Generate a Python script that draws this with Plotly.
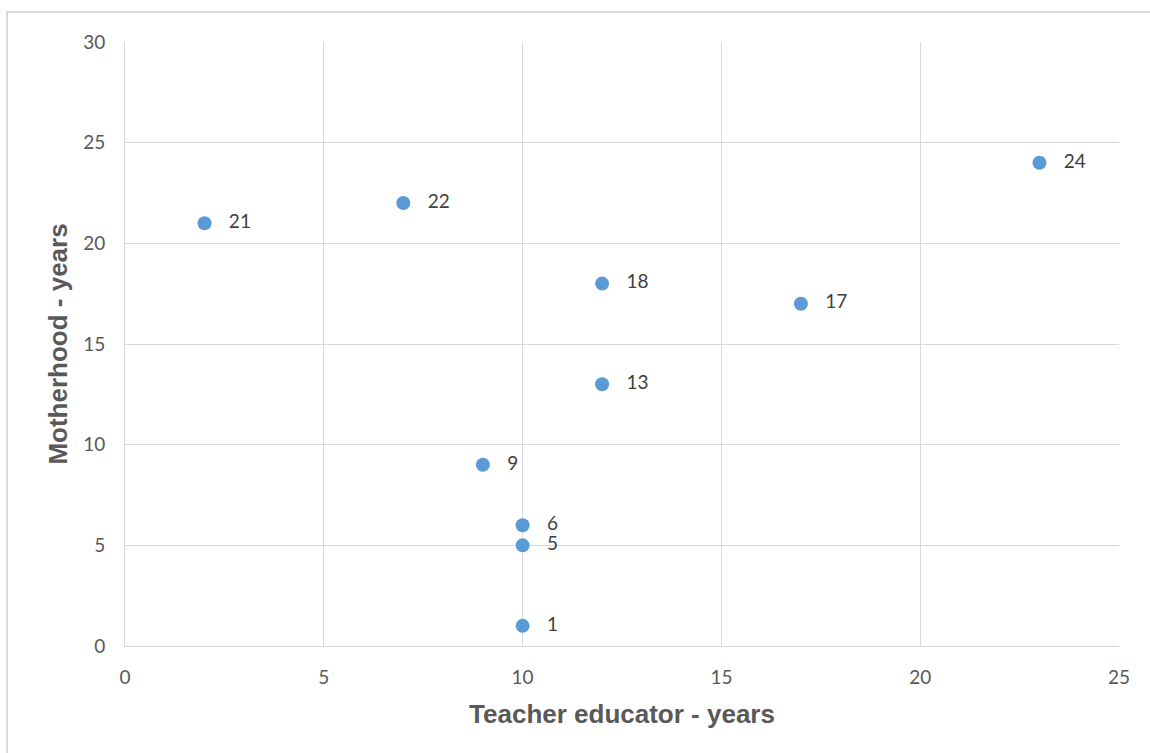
import plotly.graph_objects as go

teacher_years = [2, 7, 23, 12, 17, 12, 9, 10, 10, 10]
motherhood_years = [21, 22, 24, 18, 17, 13, 9, 6, 5, 1]
point_labels = ["21", "22", "24", "18", "17", "13", "9", "6", "5", "1"]

W, H = 1150, 753
L, R, T, B = 125, 31, 42, 107
pw, ph = W - L - R, H - T - B

fig = go.Figure()
fig.add_trace(go.Scatter(
    x=teacher_years, y=motherhood_years,
    mode="markers+text",
    text=["   " + s for s in point_labels],
    textposition="middle right",
    textfont=dict(family="Lato", size=19, color="#404040"),
    marker=dict(size=14, color="#5b9bd5"),
    cliponaxis=False,
    hoverinfo="x+y",
))

axis_common = dict(
    showgrid=True, gridcolor="#d9d9d9", gridwidth=1,
    showline=True, linecolor="#d9d9d9", linewidth=1, mirror=False,
    zeroline=False, ticks="",
    tickfont=dict(family="Lato", size=19, color="#595959"),
)

fig.update_layout(
    width=W, height=H,
    margin=dict(l=L, r=R, t=T, b=B),
    paper_bgcolor="white", plot_bgcolor="white",
    showlegend=False,
    xaxis=dict(range=[0, 25], dtick=5, tickmode="linear", tick0=0,
               ticklabelstandoff=14,
               title=dict(text="<b>Teacher educator - years</b>",
                          font=dict(family="Liberation Sans", size=26, color="#595959"),
                          standoff=18),
               **axis_common),
    yaxis=dict(range=[0, 30], dtick=5, tickmode="linear", tick0=0,
               ticklabelstandoff=15,
               title=dict(text="<b>Motherhood - years</b>",
                          font=dict(family="Liberation Sans", size=26, color="#595959"),
                          standoff=8),
               **axis_common),
)

fig.add_shape(type="rect", xref="paper", yref="paper",
              x0=(7 - L) / pw, x1=(1160 - L) / pw,
              y0=-(770 - (H - B)) / ph, y1=1 + (T - 12) / ph,
              line=dict(color="#d9d9d9", width=2), fillcolor="rgba(0,0,0,0)",
              layer="below")

fig.write_html("out.html")
